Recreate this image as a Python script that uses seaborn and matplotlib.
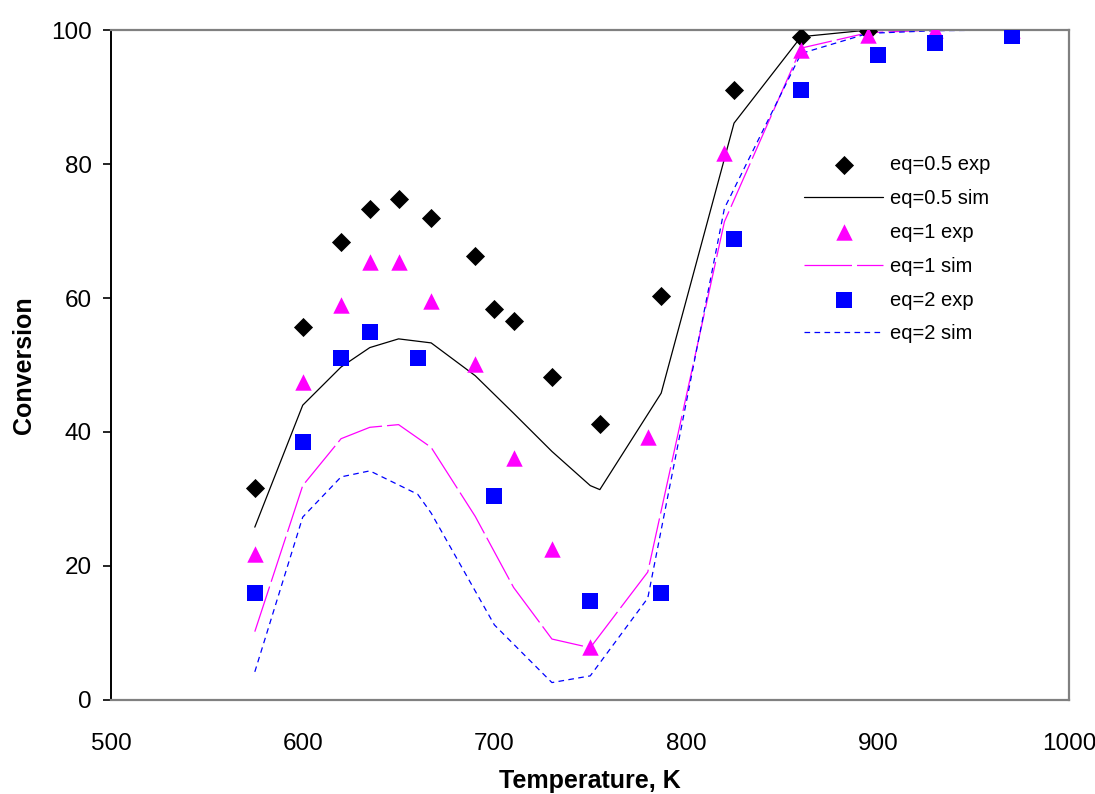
import matplotlib
matplotlib.use("Agg")
import matplotlib.pyplot as plt
import seaborn as sns

# Experimental conversions
exp05_T = [575, 600, 620, 635, 650, 667, 690, 700, 710, 730, 755, 787, 825, 860, 895]
exp05_X = [31.6, 55.7, 68.4, 73.3, 74.8, 71.9, 66.2, 58.4, 56.6, 48.2, 41.2, 60.3, 91.0, 99.0, 99.8]

exp1_T = [575, 600, 620, 635, 650, 667, 690, 710, 730, 750, 780, 820, 860, 895, 930, 970]
exp1_X = [21.8, 47.4, 58.9, 65.3, 65.3, 59.6, 50.1, 36.1, 22.5, 7.9, 39.3, 81.7, 97.0, 99.3, 100.0, 100.0]

exp2_T = [575, 600, 620, 635, 660, 700, 750, 787, 825, 860, 900, 930, 970]
exp2_X = [15.9, 38.5, 51.0, 54.9, 51.0, 30.4, 14.8, 15.9, 68.8, 91.0, 96.3, 98.1, 99.1]

# Simulated conversions
sim05_T = [575, 600, 620, 635, 650, 667, 690, 710, 730, 750, 755, 787, 825, 860, 895, 930, 970]
sim05_X = [25.8, 44.0, 49.7, 52.6, 53.9, 53.3, 48.4, 42.8, 37.1, 32.0, 31.4, 45.8, 86.1, 99.0, 100.0, 100.0, 100.0]

sim1_T = [575, 600, 620, 635, 650, 667, 690, 710, 730, 750, 780, 820, 860, 895, 930, 970]
sim1_X = [10.2, 32.0, 39.0, 40.7, 41.1, 37.7, 27.4, 16.8, 9.1, 7.8, 19.1, 71.4, 97.3, 99.6, 100.0, 100.0]

sim2_T = [575, 600, 620, 635, 660, 667, 700, 730, 750, 780, 820, 860, 895, 930, 970]
sim2_X = [4.2, 27.3, 33.3, 34.2, 30.7, 27.9, 11.2, 2.6, 3.6, 15.2, 73.4, 96.5, 99.5, 99.9, 100.0]

x_ticks = [500, 600, 700, 800, 900, 1000]
y_ticks = [0, 20, 40, 60, 80, 100]

sns.set_style("white", rc={"text.color": "black", "axes.labelcolor": "black",
                           "xtick.color": "black", "ytick.color": "black"})
plt.rcParams["font.family"] = ["Liberation Sans", "DejaVu Sans"]

fig = plt.figure(figsize=(10.95, 7.94), dpi=100)
ax = fig.add_axes([0.1014, 0.1184, 0.8753, 0.8438])

BLACK, MAGENTA, BLUE = "#000000", "#FF00FF", "#0000FF"

sns.scatterplot(x=exp05_T, y=exp05_X, ax=ax, marker="D", s=95, color=BLACK,
                linewidth=0, label="eq=0.5 exp", zorder=3)
sns.lineplot(x=sim05_T, y=sim05_X, ax=ax, color=BLACK, linewidth=0.9,
             label="eq=0.5 sim", sort=False, estimator=None)
sns.scatterplot(x=exp1_T, y=exp1_X, ax=ax, marker="^", s=140, color=MAGENTA,
                linewidth=0, label="eq=1 exp", zorder=3)
sns.lineplot(x=sim1_T, y=sim1_X, ax=ax, color=MAGENTA, linewidth=0.9,
             linestyle=(0, (38, 4)), label="eq=1 sim", sort=False, estimator=None)
sns.scatterplot(x=exp2_T, y=exp2_X, ax=ax, marker="s", s=118, color=BLUE,
                linewidth=0, label="eq=2 exp", zorder=3)
sns.lineplot(x=sim2_T, y=sim2_X, ax=ax, color=BLUE, linewidth=0.9,
             linestyle=(0, (4.5, 3.5)), label="eq=2 sim", sort=False, estimator=None)

ax.set_xlim(500, 1000)
ax.set_ylim(0, 100)
ax.set_xticks(x_ticks)
ax.set_yticks(y_ticks)
ax.tick_params(axis="x", length=0, pad=24, labelsize=17.5, colors="black")
ax.tick_params(axis="y", direction="out", length=6, width=1.2, colors="black",
               pad=8, labelsize=17.5, left=True)

for side in ("top", "right", "bottom"):
    ax.spines[side].set_color("#808080")
    ax.spines[side].set_linewidth(1.6)
ax.spines["left"].set_color("black")
ax.spines["left"].set_linewidth(1.4)

ax.set_xlabel("Temperature, K", fontsize=18, fontweight="bold", labelpad=10, color="black")
ax.set_ylabel("Conversion", fontsize=18, fontweight="bold", labelpad=11, color="black")

order = ["eq=0.5 exp", "eq=0.5 sim", "eq=1 exp", "eq=1 sim", "eq=2 exp", "eq=2 sim"]
handles, labels = ax.get_legend_handles_labels()
lookup = dict(zip(labels, handles))
leg = ax.legend([lookup[k] for k in order], order, loc="upper left",
                bbox_to_anchor=(0.7235, 0.8135), frameon=False, fontsize=14.5,
                handlelength=3.9, handletextpad=0.35, labelspacing=0.74,
                borderpad=0, borderaxespad=0, markerscale=1.0)
for t in leg.get_texts():
    t.set_color("black")

fig.savefig("out.png", dpi=100)
